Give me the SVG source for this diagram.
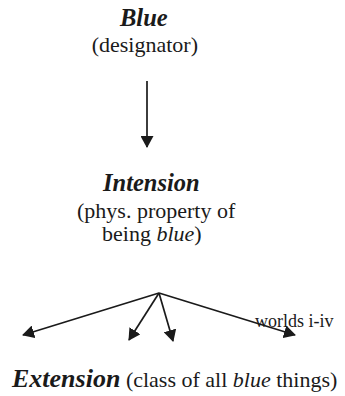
<svg xmlns="http://www.w3.org/2000/svg" width="345" height="396" viewBox="0 0 345 396">
<style>
.t{font-family:'Liberation Serif','Times New Roman',serif;fill:#1a1a1a}
.h{font-family:'Liberation Serif','Times New Roman',serif;font-weight:bold;font-style:italic;font-size:24.5px}
.b{font-family:'Liberation Serif','Times New Roman',serif;font-size:22px}
.s{font-family:'Liberation Serif','Times New Roman',serif;font-size:18px}
.i{font-style:italic}
.c{stroke:#1a1a1a;stroke-width:1.7;fill:none}
</style>
<defs>
<marker id="ah" viewBox="0 0 12 13" refX="11" refY="6.5" markerWidth="12" markerHeight="13" markerUnits="userSpaceOnUse" orient="auto">
<path d="M0,0 L12,6.5 L0,13 Z" fill="#1a1a1a"/>
</marker>
</defs>
<rect width="345" height="396" fill="#fff"/>
<g id="blue">
<text class="t h" style="font-family:'Liberation Serif',serif" x="120" y="26">Blue</text>
<text class="t b" style="font-family:'Liberation Serif',serif" x="198" y="52" text-anchor="end">(designator)</text>
</g>
<g id="intension">
<text class="t h" style="font-family:'Liberation Serif',serif" x="103" y="191">Intension</text>
<text class="t b" style="font-family:'Liberation Serif',serif" x="77" y="218">(phys. property of</text>
<text class="t b" style="font-family:'Liberation Serif',serif" x="102" y="241">being <tspan class="i">blue</tspan>)</text>
</g>
<g id="extension">
<text class="t" style="font-family:'Liberation Serif',serif" x="12" y="387"><tspan class="h" style="font-size:26px">Extension</tspan><tspan class="b"> (class of all </tspan><tspan class="b i">blue</tspan><tspan class="b"> things)</tspan></text>
</g>
<g id="connectors">
<line class="c" x1="147" y1="81" x2="147" y2="147" marker-end="url(#ah)"/>
<line class="c" x1="159" y1="293" x2="23" y2="335" marker-end="url(#ah)"/>
<line class="c" x1="159" y1="293" x2="129" y2="340" marker-end="url(#ah)"/>
<line class="c" x1="159" y1="293" x2="173" y2="341" marker-end="url(#ah)"/>
<line class="c" x1="159" y1="293" x2="295" y2="335" marker-end="url(#ah)"/>
<text class="t s" style="font-family:'Liberation Serif',serif" x="255" y="327">worlds i-iv</text>
</g>
</svg>
